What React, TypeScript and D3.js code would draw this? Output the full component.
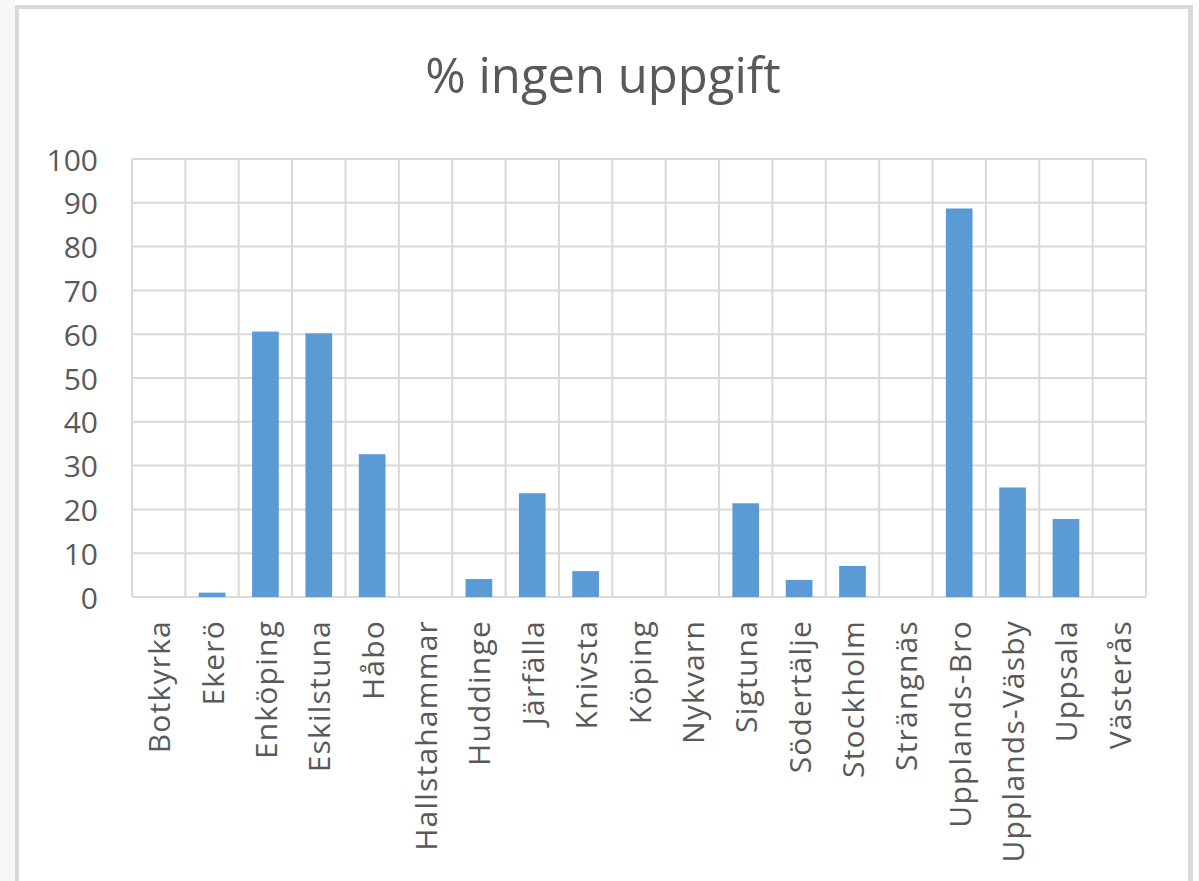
import React from "react";
import * as d3 from "d3";

const categories = [
  "Botkyrka", "Ekerö", "Enköping", "Eskilstuna", "Håbo", "Hallstahammar",
  "Huddinge", "Järfälla", "Knivsta", "Köping", "Nykvarn", "Sigtuna",
  "Södertälje", "Stockholm", "Strängnäs", "Upplands-Bro", "Upplands-Väsby",
  "Uppsala", "Västerås",
];
const values = [
  0, 1.0, 60.6, 60.2, 32.6, 0, 4.1, 23.7, 5.9, 0, 0, 21.4, 3.9, 7.1, 0, 88.7,
  25.0, 17.8, 0,
];
const yTicks = [0, 10, 20, 30, 40, 50, 60, 70, 80, 90, 100];
const title = "% ingen uppgift";

const W = 1199;
const H = 881;
const plot = { left: 132, right: 1146, top: 159, bottom: 597 };
const textColor = "#595959";
const gridColor = "#d9d9d9";
const barColor = "#5b9bd5";
const font = "'Open Sans', sans-serif";

export default function App() {
  const x = d3
    .scaleBand<string>()
    .domain(categories)
    .range([plot.left, plot.right])
    .padding(0);
  const y = d3.scaleLinear().domain([0, 100]).range([plot.bottom, plot.top]);
  const bw = x.bandwidth() * 0.5;

  return (
    <div style={{ position: "absolute", left: 0, top: 0 }}>
      <svg width={W} height={H} style={{ display: "block" }}>
        <rect x={0} y={0} width={W} height={H} fill="#ffffff" />
        <rect x={0} y={0} width={15} height={H} fill="#f7f7f7" />
        {/* outer frame */}
        <line x1={15} y1={7} x2={1191} y2={7} stroke={gridColor} strokeWidth={4} />
        <line x1={17} y1={5} x2={17} y2={H} stroke={gridColor} strokeWidth={4} />
        <line x1={1190.5} y1={5} x2={1190.5} y2={H} stroke={gridColor} strokeWidth={5} />

        <text
          x={603}
          y={93}
          textAnchor="middle"
          fontFamily={font}
          fontSize={49}
          fill={textColor}
        >
          {title}
        </text>

        {/* horizontal gridlines */}
        {yTicks.map((t) => (
          <line
            key={"h" + t}
            x1={plot.left}
            x2={plot.right}
            y1={y(t)}
            y2={y(t)}
            stroke={gridColor}
            strokeWidth={2}
          />
        ))}
        {/* vertical gridlines */}
        {categories.map((c) => (
          <line
            key={"v" + c}
            x1={x(c)!}
            x2={x(c)!}
            y1={plot.top}
            y2={plot.bottom}
            stroke={gridColor}
            strokeWidth={2}
          />
        ))}
        <line
          x1={plot.right}
          x2={plot.right}
          y1={plot.top}
          y2={plot.bottom}
          stroke={gridColor}
          strokeWidth={2}
        />

        {/* bars */}
        {categories.map((c, i) =>
          values[i] > 0 ? (
            <rect
              key={"b" + c}
              x={x(c)! + (x.bandwidth() - bw) / 2}
              y={y(values[i])}
              width={bw}
              height={y(0) - y(values[i])}
              fill={barColor}
            />
          ) : null
        )}

        {/* y tick labels */}
        {yTicks.map((t) => (
          <text
            key={"yl" + t}
            x={98}
            y={y(t)}
            textAnchor="end"
            dominantBaseline="central"
            fontFamily={font}
            fontSize={30}
            fill={textColor}
          >
            {t}
          </text>
        ))}

        {/* x labels */}
        {categories.map((c) => {
          const cx = x(c)! + x.bandwidth() / 2;
          const cy = 620;
          return (
            <text
              key={"xl" + c}
              transform={`translate(${cx},${cy}) rotate(-90)`}
              textAnchor="end"
              dominantBaseline="central"
              fontFamily={font}
              fontSize={30}
              letterSpacing={1.2}
              fill={textColor}
            >
              {c}
            </text>
          );
        })}
      </svg>
    </div>
  );
}
